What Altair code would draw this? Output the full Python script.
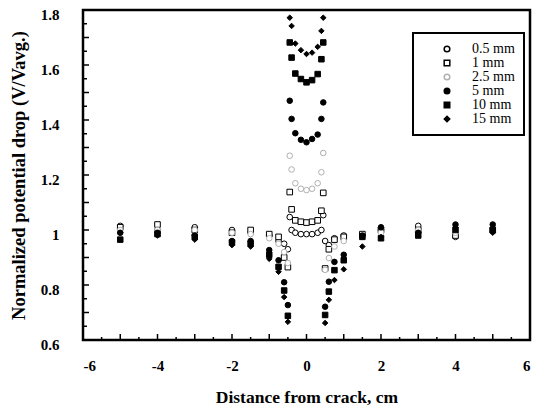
import altair as alt
import pandas as pd

SERIES = ["0.5 mm", "1 mm", "2.5 mm", "5 mm", "10 mm", "15 mm"]
X_POS = [-5, -4, -3, -2, -1.5, -1, -0.75, -0.6, -0.5,
         -0.45, -0.4, -0.3, -0.15, 0, 0.15, 0.3, 0.4, 0.45,
         0.5, 0.6, 0.75, 1, 1.5, 2, 3, 4, 5]

V_05 = [1.015, 1.0, 1.01, 1.0, 0.99, 0.98, 0.96, 0.95, 0.93,
        1.047, 1.0, 0.99, 0.985, 0.985, 0.985, 0.99, 1.0, 1.054,
        0.96, 0.945, 0.97, 0.98, 0.98, 1.0, 1.015, 0.975, 1.0]
V_1 = [1.01, 1.02, 1.0, 0.99, 1.0, 0.985, 0.975, 0.9, 0.865,
       1.138, 1.075, 1.035, 1.03, 1.027, 1.03, 1.035, 1.07, 1.135,
       0.86, 0.93, 0.965, 0.975, 0.985, 1.0, 1.0, 0.98, 1.0]
V_25 = [1.0, 1.0, 1.0, 0.99, 0.985, 0.97, 0.95, 0.92, 0.88,
        1.27, 1.22, 1.17, 1.15, 1.145, 1.15, 1.17, 1.21, 1.28,
        0.855, 0.898, 0.94, 0.96, 0.975, 0.99, 1.0, 0.99, 1.0]
V_5 = [0.99, 0.99, 0.98, 0.96, 0.96, 0.927, 0.89, 0.81, 0.727,
       1.47, 1.404, 1.352, 1.328, 1.319, 1.331, 1.347, 1.404, 1.464,
       0.721, 0.812, 0.884, 0.91, 0.98, 1.01, 0.99, 1.02, 1.02]
V_10 = [0.965, 0.985, 0.975, 0.955, 0.95, 0.91, 0.866, 0.78, 0.688,
        1.682, 1.627, 1.569, 1.549, 1.537, 1.545, 1.567, 1.621, 1.682,
        0.691, 0.776, 0.854, 0.89, 0.975, 0.97, 0.98, 1.0, 1.0]
V_15 = [0.99, 0.98, 0.965, 0.945, 0.94, 0.895, 0.848, 0.756, 0.666,
        1.772, 1.742, 1.678, 1.654, 1.64, 1.645, 1.666, 1.724, 1.772,
        0.662, 0.746, 0.818, 0.857, 0.94, 0.975, 0.99, 1.01, 0.99]

Y_LABELS = [0.6, 0.8, 1.0, 1.2, 1.4, 1.6, 1.8]
X_LABELS = [-6, -4, -2, 0, 2, 4, 6]
Y_TICKS_MAJOR = [0.6, 0.7, 0.8, 0.9, 1.0, 1.1, 1.2, 1.3, 1.4, 1.5, 1.6, 1.7, 1.8]
Y_TICKS_MINOR = [0.65, 0.75, 0.85, 0.95, 1.05, 1.15, 1.25, 1.35, 1.45, 1.55, 1.65, 1.75]
X_TICKS_MAJOR = [-5, -4, -3, -2, -1, 0, 1, 2, 3, 4, 5]
X_TICKS_MINOR = [-5.5, -4.5, -3.5, -2.5, -1.5, -0.5, 0.5, 1.5, 2.5, 3.5, 4.5, 5.5]

rows = []
for name, vals in zip(SERIES, [V_05, V_1, V_25, V_5, V_10, V_15]):
    for x, v in zip(X_POS, vals):
        rows.append({"series": name, "x": x, "v": v})
df = pd.DataFrame(rows)

W, H = 447, 330
xscale = alt.Scale(domain=[-6, 6], nice=False, zero=False)
yscale = alt.Scale(domain=[0.6, 1.8], nice=False, zero=False)

leg = alt.Legend(title=None, orient="none", legendX=330, legendY=23,
                 strokeColor="black", padding=9, labelFont="Liberation Serif",
                 labelFontSize=14, labelColor="black", symbolOffset=18,
                 labelOffset=18, rowPadding=0, fillColor="white")

points = alt.Chart(df).mark_point(filled=True, strokeWidth=1, opacity=1).encode(
    x=alt.X("x:Q", scale=xscale,
            axis=alt.Axis(values=X_LABELS, ticks=False, tickSize=0, domain=False, grid=False,
                          labelExpr="'' + datum.value", labelPadding=18,
                          title="Distance from crack, cm", titlePadding=15,
                          titleFontSize=17.5)),
    y=alt.Y("v:Q", scale=yscale,
            axis=alt.Axis(values=Y_LABELS, ticks=False, tickSize=0, domain=False, grid=False,
                          labelExpr="'' + datum.value", labelPadding=24, labelOffset=4,
                          title="Normalized potential drop (V/Vavg.)", titlePadding=12,
                          titleFontSize=18.5)),
    shape=alt.Shape("series:N", scale=alt.Scale(domain=SERIES,
                    range=["circle", "square", "circle", "circle", "square", "diamond"]), legend=leg),
    fill=alt.Fill("series:N", scale=alt.Scale(domain=SERIES,
                  range=["white", "white", "white", "black", "black", "black"]), legend=leg),
    stroke=alt.Stroke("series:N", scale=alt.Scale(domain=SERIES,
                      range=["black", "black", "#b0b0b0", "black", "black", "black"]), legend=leg),
    size=alt.Size("series:N", scale=alt.Scale(domain=SERIES,
                  range=[32, 30, 20, 55, 45, 28]), legend=leg),
)

def yticks(vals, length):
    return alt.Chart(pd.DataFrame({"t": vals})).mark_rule(color="black", strokeWidth=1.5).encode(
        y=alt.Y("t:Q", scale=yscale), x=alt.value(0), x2=alt.value(length))

def xticks(vals, length):
    return alt.Chart(pd.DataFrame({"t": vals})).mark_rule(color="black", strokeWidth=1.5).encode(
        x=alt.X("t:Q", scale=xscale), y=alt.value(H), y2=alt.value(H - length))

chart = alt.layer(
    points,
    yticks(Y_TICKS_MAJOR, 6), yticks(Y_TICKS_MINOR, 4),
    xticks(X_TICKS_MAJOR, 6), xticks(X_TICKS_MINOR, 3),
).properties(
    width=W, height=H,
    padding={"left": 75, "top": 2, "right": 5, "bottom": 66},
    autosize=alt.AutoSizeParams(type="none"),
).configure_view(
    stroke="black", strokeWidth=2.5
).configure_axis(
    labelFont="Liberation Serif", labelFontSize=15, labelFontWeight="bold", labelColor="black",
    titleFont="Liberation Serif", titleFontSize=16, titleFontWeight="bold", titleColor="black",
).configure_legend(
    strokeWidth=2
)

chart.save("out.html", embed_options={"renderer": "svg", "actions": False})
